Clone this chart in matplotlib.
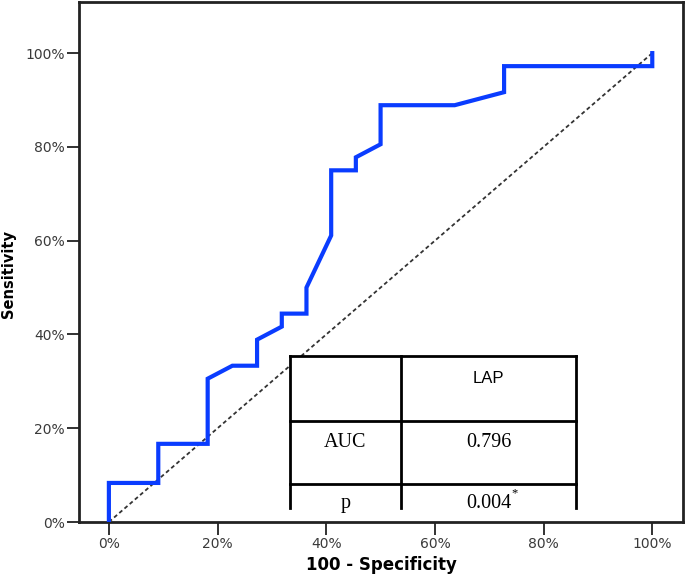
import matplotlib
matplotlib.use("Agg")
import matplotlib.pyplot as plt
from matplotlib.ticker import FuncFormatter

# ROC curve for LAP (values in %)
fpr = [0, 0, 9.09, 9.09, 18.18, 18.18, 22.73, 27.27, 27.27, 31.82, 31.82, 36.36,
       36.36, 40.91, 40.91, 45.45, 45.45, 50.0, 50.0, 63.64, 72.73, 72.73, 100, 100]
tpr = [0, 8.33, 8.33, 16.67, 16.67, 30.56, 33.33, 33.33, 38.89, 41.67, 44.44, 44.44,
       50.0, 61.11, 75.0, 75.0, 77.78, 80.56, 88.89, 88.89, 91.67, 97.22, 97.22, 100]
ref_line = [0, 100]
ticks = [0, 20, 40, 60, 80, 100]

marker_name = "LAP"
row_labels = ["AUC", "p"]
row_values = ["0.796", "0.004"]

fig = plt.figure(figsize=(6.85, 5.74), dpi=100)
ax = fig.add_axes([79 / 685, 1 - 522 / 574, (682.7 - 79) / 685, 520 / 574])

ax.plot(ref_line, ref_line, color="#333333", lw=1.3, linestyle=(0, (2.2, 1.6)), zorder=1)
ax.plot(fpr, tpr, color="#0a3cff", lw=3.0, solid_joinstyle="miter", zorder=3)

ax.set_xlim(-5.5, 105.6)
ax.set_ylim(0, 110.9)
ax.set_xticks(ticks)
ax.set_yticks(ticks)
pct = FuncFormatter(lambda v, p: f"{v:.0f}%")
ax.xaxis.set_major_formatter(pct)
ax.yaxis.set_major_formatter(pct)
ax.tick_params(axis="both", direction="out", length=9, width=1.3, color="#222222",
               labelsize=10, labelcolor="#3a3a3a")
ax.tick_params(axis="y", pad=1)
ax.tick_params(axis="x", pad=2)
for s in ax.spines.values():
    s.set_linewidth(2)
    s.set_color("#222222")

ax.set_xlabel("100 - Specificity", fontsize=12, fontweight="bold")
ax.set_ylabel("Sensitivity", fontsize=10.5, fontweight="bold")
ax.xaxis.set_label_coords(0.501, -0.066)
ax.yaxis.set_label_coords(-0.104, 0.476)

# result table
tx0, tx1, tx2 = 0.349, 0.534, 0.823
ty0, ty1, ty2, ty3 = 0.319, 0.194, 0.073, 0.027
T = ax.transAxes
ax.add_patch(plt.Rectangle((tx0, 0.0), tx2 - tx0, ty0, transform=T,
                           facecolor="white", edgecolor="none", zorder=2))
lk = dict(transform=T, color="black", lw=2, zorder=4, solid_capstyle="projecting")
ax.plot([tx0, tx2], [ty0, ty0], **lk)
ax.plot([tx0, tx2], [ty1, ty1], **lk)
ax.plot([tx0, tx2], [ty2, ty2], **lk)
for xx in (tx0, tx1, tx2):
    ax.plot([xx, xx], [ty0, ty3], **lk)

c1 = (tx0 + tx1) / 2
c2 = (tx1 + tx2) / 2
ax.text(c2, 0.268, marker_name, transform=T, ha="center", va="baseline",
        fontsize=12, family="Liberation Sans", zorder=5)
row_y = [0.145, 0.027]
for lab, val, yy in zip(row_labels, row_values, row_y):
    ax.text(c1, yy, lab, transform=T, ha="center", va="baseline",
            fontsize=14.5, family="Liberation Serif", zorder=5)
    ax.text(c2, yy, val, transform=T, ha="center", va="baseline",
            fontsize=14.5, family="Liberation Serif", zorder=5)
ax.text(c2 + 0.037, row_y[1] + 0.028, "*", transform=T, ha="left", va="center",
        fontsize=9, family="Liberation Serif", zorder=5)

fig.savefig("out.png", dpi=100)
